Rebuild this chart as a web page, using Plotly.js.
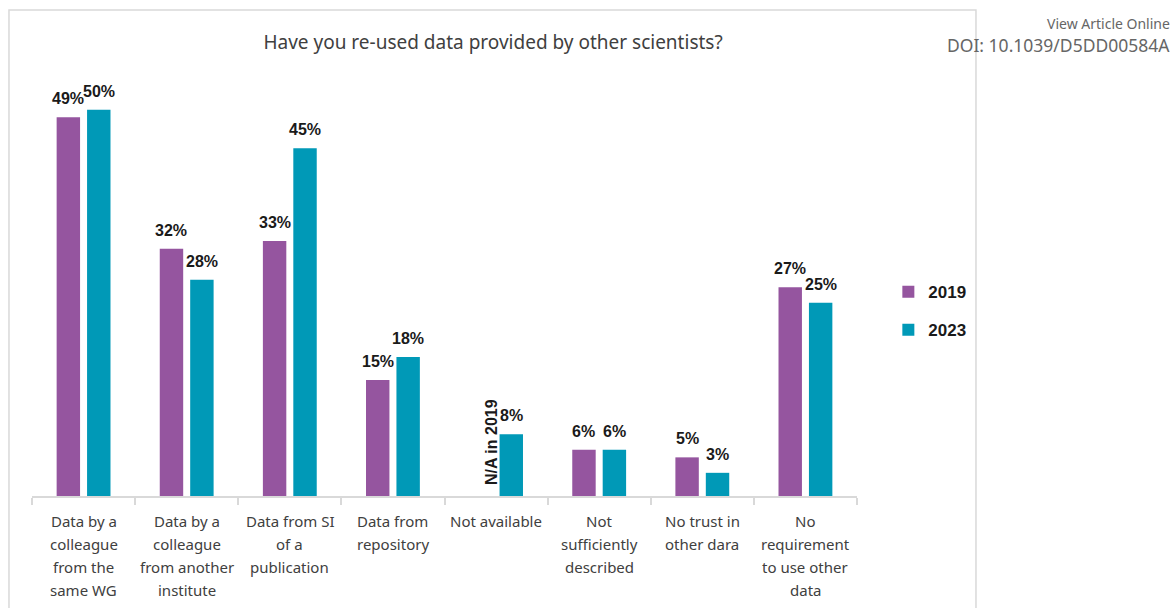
<!DOCTYPE html>
<html>
<head>
<meta charset="utf-8">
<script src="https://cdn.plot.ly/plotly-3.0.1.min.js"></script>
<style>
  html, body { margin: 0; padding: 0; background: #ffffff; }
  #chart { width: 1174px; height: 608px; }
</style>
</head>
<body>
<div id="chart"></div>
<script>
// Survey answers: reasons / sources for re-using other scientists' data
const categories = [
  "Data by a<br>colleague<br>from the<br>same WG",
  "Data by a<br>colleague<br>from another<br>institute",
  "Data from SI<br>of a<br>publication",
  "Data from<br>repository",
  "Not available",
  "Not<br>sufficiently<br>described",
  "No trust in<br>other dara",
  "No<br>requirement<br>to use other<br>data"
];
// percentages; null = question not asked that year
const values2019 = [49, 32, 33, 15, null, 6, 5, 27];
const values2023 = [50, 28, 45, 18, 8, 6, 3, 25];
const seriesNames = ["2019", "2023"];
const seriesColors = ["#95559f", "#0099b7"];

const boldFont = { family: "Liberation Sans, Arial, sans-serif", size: 16, color: "#1a1a1a", weight: 700 };
const tickFont = { family: "Noto Sans, sans-serif", size: 15, color: "#404040" };

const traces = [values2019, values2023].map((vals, i) => ({
  type: "bar",
  name: seriesNames[i],
  legendgroup: seriesNames[i],
  x: categories,
  y: vals,
  marker: { color: seriesColors[i] },
  hoverinfo: "y+name"
}));

// value labels above each bar
const valueLabels = [];
[values2019, values2023].forEach((vals, i) => {
  vals.forEach((v, k) => {
    if (v === null) return;
    valueLabels.push({
      x: categories[k], y: v, xref: "x", yref: "y",
      text: v + "%", showarrow: false,
      xanchor: "center", yanchor: "bottom",
      xshift: i === 0 ? -15.25 : 15.25, yshift: 8,
      font: boldFont
    });
  });
});

// category names under the axis, one annotation per line for wider line spacing
const categoryLabels = [];
categories.forEach((cat) => {
  cat.split("<br>").forEach((line, j) => {
    categoryLabels.push({
      x: cat, y: 0, xref: "x", yref: "paper",
      text: line, showarrow: false,
      xanchor: "center", yanchor: "middle",
      yshift: -(25 + 23 * j),
      font: tickFont
    });
  });
});

const layout = {
  width: 1174, height: 608,
  margin: { l: 32, r: 317, t: 71, b: 112 },
  paper_bgcolor: "#ffffff", plot_bgcolor: "#ffffff",
  barmode: "group", bargap: 0.41, bargroupgap: 0.23,
  title: {
    text: "Have you re-used data provided by other scientists?",
    x: 0.42, xanchor: "center", y: 0.931, yanchor: "middle",
    font: { family: "Noto Sans, sans-serif", size: 19, color: "#404040" }
  },
  xaxis: {
    type: "category", tickangle: 0, automargin: false, showticklabels: false,
    showline: true, linecolor: "#d9d9d9", linewidth: 1.5,
    ticks: "outside", tickson: "boundaries", ticklen: 7, tickcolor: "#d9d9d9", tickwidth: 1.5,
    showgrid: false, zeroline: false, fixedrange: true
  },
  yaxis: {
    range: [0, 55], visible: false, showgrid: false, zeroline: false, fixedrange: true
  },
  legend: {
    x: 1.038, xanchor: "left", y: 0.435, yanchor: "middle",
    traceorder: "grouped", tracegroupgap: 13,
    font: { family: "Liberation Sans, Arial, sans-serif", size: 17, color: "#1a1a1a", weight: 700 },
    itemwidth: 30
  },
  shapes: [{
    type: "rect", xref: "paper", yref: "paper",
    x0: -0.0279, x1: 1.1442, y0: -0.35, y1: 1.1435,
    line: { color: "#d9d9d9", width: 1.5 }, fillcolor: "rgba(0,0,0,0)", layer: "below"
  }],
  annotations: valueLabels.concat(categoryLabels, [
    {
      x: categories[4], y: 0, xref: "x", yref: "y",
      text: "N/A in 2019", textangle: -90, showarrow: false,
      xanchor: "center", yanchor: "bottom", xshift: -5, yshift: 9,
      font: boldFont
    },
    {
      x: 1.382, y: 1.1129, xref: "paper", yref: "paper",
      text: "View Article Online", showarrow: false,
      xanchor: "right", yanchor: "middle",
      font: { family: "Noto Sans, sans-serif", size: 14, color: "#666666" }
    },
    {
      x: 1.382, y: 1.0612, xref: "paper", yref: "paper",
      text: "DOI: 10.1039/D5DD00584A", showarrow: false,
      xanchor: "right", yanchor: "middle",
      font: { family: "Noto Sans, sans-serif", size: 17.5, color: "#666666" }
    }
  ])
};

Plotly.newPlot("chart", traces, layout, { displayModeBar: false, responsive: false });
</script>
</body>
</html>
